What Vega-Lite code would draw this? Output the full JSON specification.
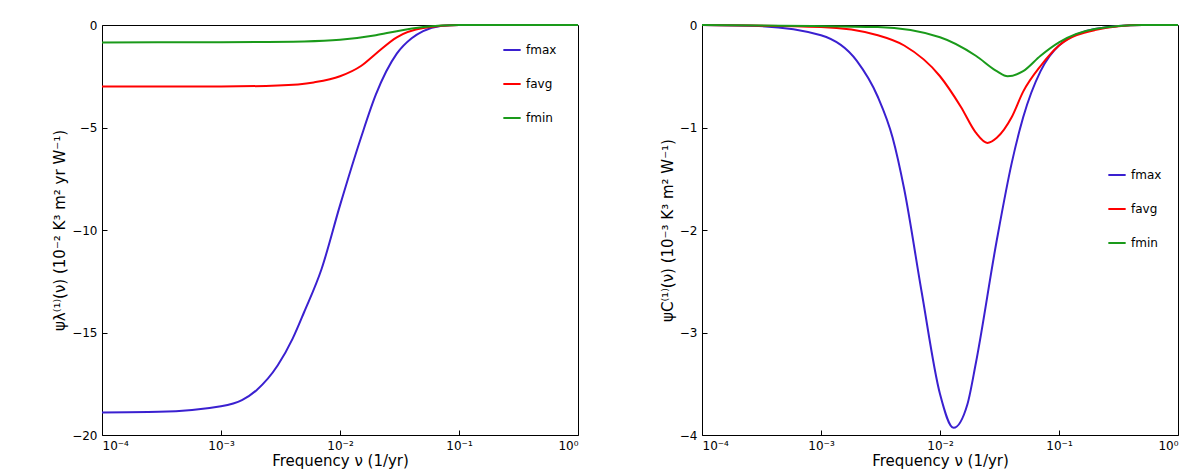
{
  "$schema": "https://vega.github.io/schema/vega-lite/v6.json",
  "background": "white",
  "padding": {"left": 52, "top": 18, "right": 20, "bottom": 5},
  "config": {
    "view": {"stroke": "black", "strokeWidth": 1},
    "font": "DejaVu Sans",
    "axis": {"grid": false, "domain": false, "tickColor": "black", "labelColor": "black", "titleColor": "black", "labelFontSize": 12, "titleFontSize": 15, "titleFontWeight": "normal", "tickSize": -5, "labelPadding": 10},
    "legend": {"labelFontSize": 12, "symbolType": "stroke", "symbolStrokeWidth": 2, "symbolSize": 300, "rowPadding": 18, "labelLimit": 80}
  },
  "datasets": {
    "d": [
      {"p":"L","s":"fmax","nu":0.0001,"v":-18.9},{"p":"L","s":"fmax","nu":0.0003,"v":-18.87},{"p":"L","s":"fmax","nu":0.001,"v":-18.6},{"p":"L","s":"fmax","nu":0.0015,"v":-18.3},{"p":"L","s":"fmax","nu":0.002,"v":-17.8},{"p":"L","s":"fmax","nu":0.003,"v":-16.6},{"p":"L","s":"fmax","nu":0.004,"v":-15.3},{"p":"L","s":"fmax","nu":0.005,"v":-14},{"p":"L","s":"fmax","nu":0.007,"v":-11.9},{"p":"L","s":"fmax","nu":0.01,"v":-8.8},{"p":"L","s":"fmax","nu":0.015,"v":-5.5},{"p":"L","s":"fmax","nu":0.02,"v":-3.4},{"p":"L","s":"fmax","nu":0.03,"v":-1.4},{"p":"L","s":"fmax","nu":0.04,"v":-0.65},{"p":"L","s":"fmax","nu":0.05,"v":-0.3},{"p":"L","s":"fmax","nu":0.07,"v":-0.05},{"p":"L","s":"fmax","nu":0.1,"v":0},{"p":"L","s":"fmax","nu":1,"v":0},
      {"p":"L","s":"favg","nu":0.0001,"v":-3},{"p":"L","s":"favg","nu":0.001,"v":-3},{"p":"L","s":"favg","nu":0.003,"v":-2.95},{"p":"L","s":"favg","nu":0.006,"v":-2.8},{"p":"L","s":"favg","nu":0.01,"v":-2.5},{"p":"L","s":"favg","nu":0.015,"v":-2.0},{"p":"L","s":"favg","nu":0.02,"v":-1.4},{"p":"L","s":"favg","nu":0.03,"v":-0.6},{"p":"L","s":"favg","nu":0.05,"v":-0.15},{"p":"L","s":"favg","nu":0.1,"v":0},{"p":"L","s":"favg","nu":1,"v":0},
      {"p":"L","s":"fmin","nu":0.0001,"v":-0.85},{"p":"L","s":"fmin","nu":0.001,"v":-0.84},{"p":"L","s":"fmin","nu":0.005,"v":-0.8},{"p":"L","s":"fmin","nu":0.01,"v":-0.72},{"p":"L","s":"fmin","nu":0.02,"v":-0.5},{"p":"L","s":"fmin","nu":0.03,"v":-0.3},{"p":"L","s":"fmin","nu":0.05,"v":-0.1},{"p":"L","s":"fmin","nu":0.1,"v":0},{"p":"L","s":"fmin","nu":1,"v":0},
      {"p":"R","s":"fmax","nu":0.0001,"v":0},{"p":"R","s":"fmax","nu":0.0003,"v":-0.01},{"p":"R","s":"fmax","nu":0.001,"v":-0.1},{"p":"R","s":"fmax","nu":0.002,"v":-0.35},{"p":"R","s":"fmax","nu":0.003,"v":-0.7},{"p":"R","s":"fmax","nu":0.004,"v":-1.1},{"p":"R","s":"fmax","nu":0.005,"v":-1.6},{"p":"R","s":"fmax","nu":0.007,"v":-2.6},{"p":"R","s":"fmax","nu":0.01,"v":-3.6},{"p":"R","s":"fmax","nu":0.013,"v":-3.93},{"p":"R","s":"fmax","nu":0.017,"v":-3.7},{"p":"R","s":"fmax","nu":0.02,"v":-3.3},{"p":"R","s":"fmax","nu":0.03,"v":-2.1},{"p":"R","s":"fmax","nu":0.04,"v":-1.35},{"p":"R","s":"fmax","nu":0.05,"v":-0.9},{"p":"R","s":"fmax","nu":0.07,"v":-0.45},{"p":"R","s":"fmax","nu":0.1,"v":-0.2},{"p":"R","s":"fmax","nu":0.2,"v":-0.04},{"p":"R","s":"fmax","nu":0.5,"v":0},{"p":"R","s":"fmax","nu":1,"v":0},
      {"p":"R","s":"favg","nu":0.0001,"v":0},{"p":"R","s":"favg","nu":0.001,"v":-0.02},{"p":"R","s":"favg","nu":0.003,"v":-0.1},{"p":"R","s":"favg","nu":0.005,"v":-0.2},{"p":"R","s":"favg","nu":0.01,"v":-0.5},{"p":"R","s":"favg","nu":0.015,"v":-0.8},{"p":"R","s":"favg","nu":0.02,"v":-1.05},{"p":"R","s":"favg","nu":0.025,"v":-1.15},{"p":"R","s":"favg","nu":0.03,"v":-1.1},{"p":"R","s":"favg","nu":0.04,"v":-0.9},{"p":"R","s":"favg","nu":0.05,"v":-0.65},{"p":"R","s":"favg","nu":0.07,"v":-0.4},{"p":"R","s":"favg","nu":0.1,"v":-0.2},{"p":"R","s":"favg","nu":0.2,"v":-0.05},{"p":"R","s":"favg","nu":0.5,"v":0},{"p":"R","s":"favg","nu":1,"v":0},
      {"p":"R","s":"fmin","nu":0.0001,"v":0},{"p":"R","s":"fmin","nu":0.003,"v":-0.02},{"p":"R","s":"fmin","nu":0.01,"v":-0.12},{"p":"R","s":"fmin","nu":0.02,"v":-0.3},{"p":"R","s":"fmin","nu":0.03,"v":-0.45},{"p":"R","s":"fmin","nu":0.037,"v":-0.5},{"p":"R","s":"fmin","nu":0.05,"v":-0.45},{"p":"R","s":"fmin","nu":0.07,"v":-0.3},{"p":"R","s":"fmin","nu":0.1,"v":-0.17},{"p":"R","s":"fmin","nu":0.2,"v":-0.04},{"p":"R","s":"fmin","nu":0.5,"v":0},{"p":"R","s":"fmin","nu":1,"v":0}
    ]
  },
  "hconcat": [
    {
      "width": 476, "height": 410,
      "data": {"name": "d"},
      "transform": [{"filter": "datum.p == 'L'"}],
      "mark": {"type": "line", "interpolate": "monotone", "strokeWidth": 2},
      "encoding": {
        "x": {"field": "nu", "type": "quantitative", "scale": {"type": "log", "domain": [0.0001, 1], "nice": false}, "axis": {"values": [0.0001, 0.001, 0.01, 0.1, 1], "labelExpr": "datum.value < 0.0005 ? '10⁻⁴' : datum.value < 0.005 ? '10⁻³' : datum.value < 0.05 ? '10⁻²' : datum.value < 0.5 ? '10⁻¹' : '10⁰'", "title": "Frequency  ν (1/yr)", "titlePadding": 2}},
        "y": {"field": "v", "type": "quantitative", "scale": {"domain": [-20, 0], "nice": false}, "axis": {"values": [-20, -15, -10, -5, 0], "title": "ψλ⁽¹⁾(ν) (10⁻² K³ m² yr W⁻¹)"}},
        "color": {"field": "s", "type": "nominal", "scale": {"domain": ["fmax", "favg", "fmin"], "range": ["#3a20d0", "#ff0000", "#1a9a1a"]}, "legend": {"title": null, "orient": "none", "legendX": 400, "legendY": 15}}
      }
    },
    {
      "width": 476, "height": 410,
      "data": {"name": "d"},
      "transform": [{"filter": "datum.p == 'R'"}],
      "mark": {"type": "line", "interpolate": "monotone", "strokeWidth": 2},
      "encoding": {
        "x": {"field": "nu", "type": "quantitative", "scale": {"type": "log", "domain": [0.0001, 1], "nice": false}, "axis": {"values": [0.0001, 0.001, 0.01, 0.1, 1], "labelExpr": "datum.value < 0.0005 ? '10⁻⁴' : datum.value < 0.005 ? '10⁻³' : datum.value < 0.05 ? '10⁻²' : datum.value < 0.5 ? '10⁻¹' : '10⁰'", "title": "Frequency  ν (1/yr)", "titlePadding": 2}},
        "y": {"field": "v", "type": "quantitative", "scale": {"domain": [-4, 0], "nice": false}, "axis": {"values": [-4, -3, -2, -1, 0], "title": "ψC⁽¹⁾(ν) (10⁻³ K³ m² W⁻¹)"}},
        "color": {"field": "s", "type": "nominal", "scale": {"domain": ["fmax", "favg", "fmin"], "range": ["#3a20d0", "#ff0000", "#1a9a1a"]}, "legend": {"title": null, "orient": "none", "legendX": 405, "legendY": 140}}
      }
    }
  ],
  "resolve": {"scale": {"color": "independent"}, "legend": {"color": "independent"}},
  "spacing": 76
}
